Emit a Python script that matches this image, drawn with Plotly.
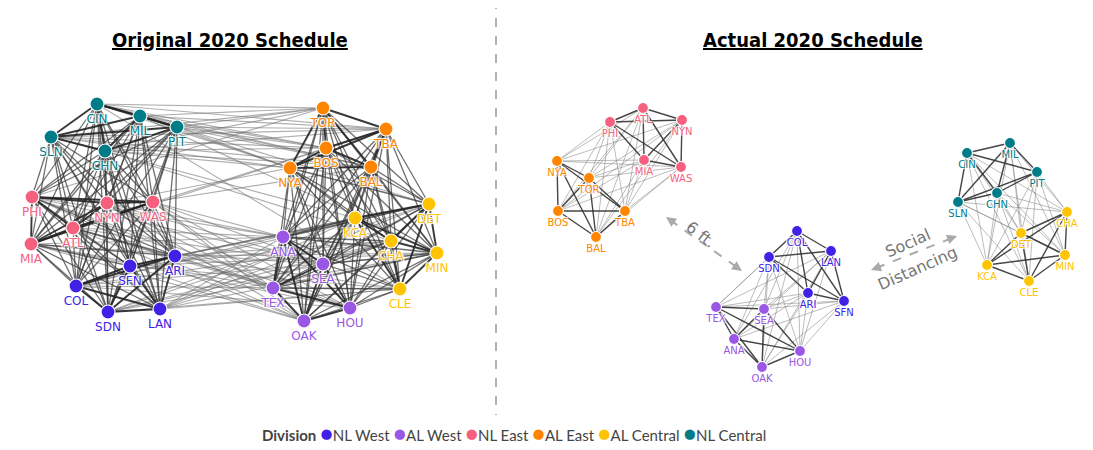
import itertools
import plotly.graph_objects as go

# divisions and colours
divisions = ["NL West", "AL West", "NL East", "AL East", "AL Central", "NL Central"]
div_colors = ["#3F22E6", "#9A56E4", "#F6607F", "#FF8500", "#FFC300", "#007C89"]

div_teams = {
    "NL West": ["COL", "SDN", "LAN", "SFN", "ARI"],
    "AL West": ["ANA", "SEA", "TEX", "OAK", "HOU"],
    "NL East": ["PHI", "MIA", "ATL", "NYN", "WAS"],
    "AL East": ["TOR", "TBA", "BOS", "NYA", "BAL"],
    "AL Central": ["DET", "KCA", "CHA", "MIN", "CLE"],
    "NL Central": ["CIN", "MIL", "PIT", "SLN", "CHN"],
}

# node layout (pixel positions)
orig_pos = {
    "CIN": (97, 104), "MIL": (140, 116), "PIT": (177, 127), "SLN": (51, 137), "CHN": (105, 151),
    "PHI": (32, 197), "NYN": (107, 203), "WAS": (153, 202), "ATL": (73, 228), "MIA": (31, 244),
    "ARI": (175, 256), "SFN": (130, 266), "COL": (76, 286), "SDN": (108, 312), "LAN": (160, 309),
    "TOR": (323, 108), "TBA": (386, 129), "BOS": (326, 148), "NYA": (290, 168), "BAL": (371, 167),
    "DET": (429, 204), "KCA": (355, 218), "ANA": (283, 237), "CHA": (391, 241), "MIN": (437, 253),
    "SEA": (323, 264), "TEX": (273, 288), "CLE": (400, 289), "HOU": (350, 308), "OAK": (304, 321),
}
actual_pos = {
    "ATL": (643, 108), "NYN": (682, 120), "PHI": (610, 122), "MIA": (644, 160), "WAS": (681, 167),
    "NYA": (557, 161), "TOR": (589, 178), "BOS": (558, 211), "TBA": (625, 211), "BAL": (596, 237),
    "COL": (797, 231), "LAN": (831, 251), "SDN": (769, 257), "ARI": (808, 293), "SFN": (844, 301),
    "TEX": (716, 307), "SEA": (764, 309), "ANA": (734, 339), "HOU": (800, 351), "OAK": (762, 367),
    "MIL": (1010, 143), "CIN": (967, 153), "PIT": (1037, 172), "CHN": (997, 193), "SLN": (958, 202),
    "CHA": (1067, 212), "DET": (1021, 233), "MIN": (1065, 255), "KCA": (987, 265), "CLE": (1029, 281),
}

# interleague partner divisions
orig_partner = {"AL East": "NL Central", "AL Central": "NL West", "AL West": "NL East"}
actual_partner = {"AL East": "NL East", "AL Central": "NL Central", "AL West": "NL West"}
# natural rivals (extra interleague series in the original schedule)
rivals = [("NYA", "NYN"), ("CHA", "CHN"), ("ANA", "LAN"), ("OAK", "SFN"), ("TEX", "HOU"),
          ("BAL", "WAS"), ("TOR", "PHI"), ("TBA", "MIA"), ("SEA", "SDN"), ("CLE", "CIN"),
          ("KCA", "SLN"), ("DET", "PIT"), ("MIN", "MIL"), ("BOS", "ATL"), ("HOU", "COL"),
          ("TEX", "ARI")]

team_div = {t: d for d, ts in div_teams.items() for t in ts}
all_teams = list(team_div)


def league(t):
    return team_div[t][:2]


def paired(a, b, partners):
    da, db = team_div[a], team_div[b]
    return partners.get(da) == db or partners.get(db) == da


def edge_groups(partners, original):
    groups = {"div": [], "league": [], "inter": []}
    for a, b in itertools.combinations(all_teams, 2):
        if team_div[a] == team_div[b]:
            kind = "div"
        elif paired(a, b, partners):
            kind = "inter"
        elif original and league(a) == league(b):
            kind = "league"
        elif original and ((a, b) in rivals or (b, a) in rivals):
            kind = "inter"
        else:
            continue
        groups[kind].append((a, b))
    return groups


fig = go.Figure()

styles_orig = {"div": ("rgba(35,35,35,0.9)", 1.9), "league": ("rgba(55,55,55,0.72)", 1.3),
               "inter": ("rgba(110,110,110,0.55)", 1.2)}
styles_act = {"div": ("rgba(50,50,50,0.9)", 1.4), "inter": ("rgba(130,130,130,0.6)", 0.9)}

for pos, partners, original, styles in [(orig_pos, orig_partner, True, styles_orig),
                                         (actual_pos, actual_partner, False, styles_act)]:
    groups = edge_groups(partners, original)
    for kind in ["inter", "league", "div"]:
        if kind not in styles:
            continue
        xs, ys = [], []
        for a, b in groups[kind]:
            xs += [pos[a][0], pos[b][0], None]
            ys += [pos[a][1], pos[b][1], None]
        col, w = styles[kind]
        fig.add_trace(go.Scatter(x=xs, y=ys, mode="lines", line=dict(color=col, width=w),
                                 hoverinfo="skip", showlegend=False))

outline = "white 1px 1px 1px, white -1px -1px 1px, white 1px -1px 1px, white -1px 1px 1px"
for d, c in zip(divisions, div_colors):
    teams = div_teams[d]
    for pos, msize, fsize in [(orig_pos, 14, 12), (actual_pos, 11, 10)]:
        fig.add_trace(go.Scatter(
            x=[pos[t][0] for t in teams], y=[pos[t][1] for t in teams],
            mode="markers+text", text=teams, textposition="bottom center",
            textfont=dict(family="DejaVu Sans", size=fsize, color=c, shadow=outline),
            marker=dict(size=msize, color=c, line=dict(color="white", width=1.2)),
            name=d, showlegend=False, hoverinfo="text",
        ))

# legend as one line of text
legend_text = "<b>Division</b>&nbsp;" + "&nbsp;".join(
    f'<span style="color:{c};font-size:21px">●</span>{d}' for d, c in zip(divisions, div_colors))

shapes = [
    dict(type="line", x0=496, x1=496, y0=0, y1=415, line=dict(color="#999", width=1.5, dash="dash")),
    dict(type="line", x0=670, y0=220, x1=738, y1=268, line=dict(color="#aaa", width=2, dash="dash")),
    dict(type="line", x0=876, y0=268, x1=952, y1=238, line=dict(color="#aaa", width=2, dash="dash")),
]
title_font = dict(family="DejaVu Sans Condensed, Liberation Sans, sans-serif", size=20, color="black")
annotations = [
    dict(x=230, y=40, text="<b><u>Original 2020 Schedule</u></b>", showarrow=False, font=title_font),
    dict(x=813, y=40, text="<b><u>Actual 2020 Schedule</u></b>", showarrow=False, font=title_font),
    dict(x=701, y=234, text="6 ft.", showarrow=False, textangle=38,
         font=dict(family="DejaVu Sans", size=16, color="#777")),
    dict(x=907, y=243, text="Social", showarrow=False, textangle=-24,
         font=dict(family="DejaVu Sans", size=16, color="#777")),
    dict(x=917, y=268, text="Distancing", showarrow=False, textangle=-24,
         font=dict(family="DejaVu Sans", size=16, color="#777")),
    dict(x=514, y=432, text=legend_text, showarrow=False,
         font=dict(family="Lato", size=15, color="#444")),
]
for (x, y, ax, ay) in [(666, 217, 676, 224), (742, 271, 732, 264),
                       (871, 270, 882, 266), (957, 236, 946, 240)]:
    annotations.append(dict(x=x, y=y, ax=ax, ay=ay, xref="x", yref="y", axref="x", ayref="y",
                            text="", showarrow=True, arrowhead=2, arrowsize=1, arrowwidth=2,
                            arrowcolor="#aaa"))

# the page body has an 8px margin, so the axes start at 8px
fig.update_layout(
    width=1085, height=442, autosize=False,
    margin=dict(l=0, r=0, t=0, b=0),
    plot_bgcolor="white", paper_bgcolor="white",
    xaxis=dict(range=[8, 1093], visible=False, fixedrange=True),
    yaxis=dict(range=[450, 8], visible=False, fixedrange=True),
    shapes=shapes, annotations=annotations, showlegend=False,
)

fig.write_html("out.html")
